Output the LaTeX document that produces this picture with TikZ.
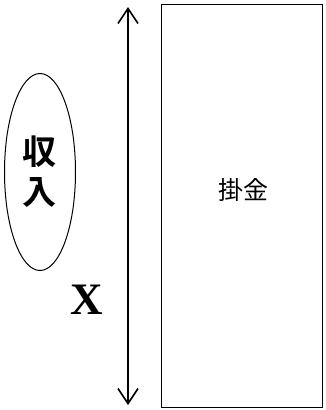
\documentclass[tikz,border=0pt]{standalone}
\usepackage{fontspec}
\newfontfamily\cjk{Noto Sans CJK JP}
\newfontfamily\cjkb{Noto Sans CJK JP Bold}
\setmainfont{Liberation Serif}
\usetikzlibrary{arrows.meta,shapes.geometric}
\begin{document}
\begin{tikzpicture}[x=1pt,y=-1pt,
  lbl/.style={inner sep=0pt},
  arr/.style={line width=1.3pt,{Straight Barb[length=15pt,width=20pt,line width=1.6pt]}-{Straight Barb[length=15pt,width=20pt,line width=1.6pt]}}]
\useasboundingbox (0,0) rectangle (325,410);
\node[draw,line width=1.3pt,minimum width=161pt,minimum height=403pt,inner sep=0pt,anchor=north west] (box) at (161,4) {};
\node[lbl,font=\cjk\fontsize{25}{25}\selectfont] (kake) at (243,190) {掛金};
\coordinate (top) at (128,7);
\coordinate (bot) at (128,405);
\draw[arr] (top) -- (bot);
\node[draw,ellipse,line width=1pt,minimum width=71pt,minimum height=197pt,inner sep=0pt] (ell) at (40,172) {};
\node[lbl,font=\cjkb\fontsize{34}{40}\selectfont,align=center] (inc) at (40,172) {収\\入};
\node[lbl,font=\bfseries\fontsize{45}{45}\selectfont] (x) at (87,300) {X};
\end{tikzpicture}
\end{document}
